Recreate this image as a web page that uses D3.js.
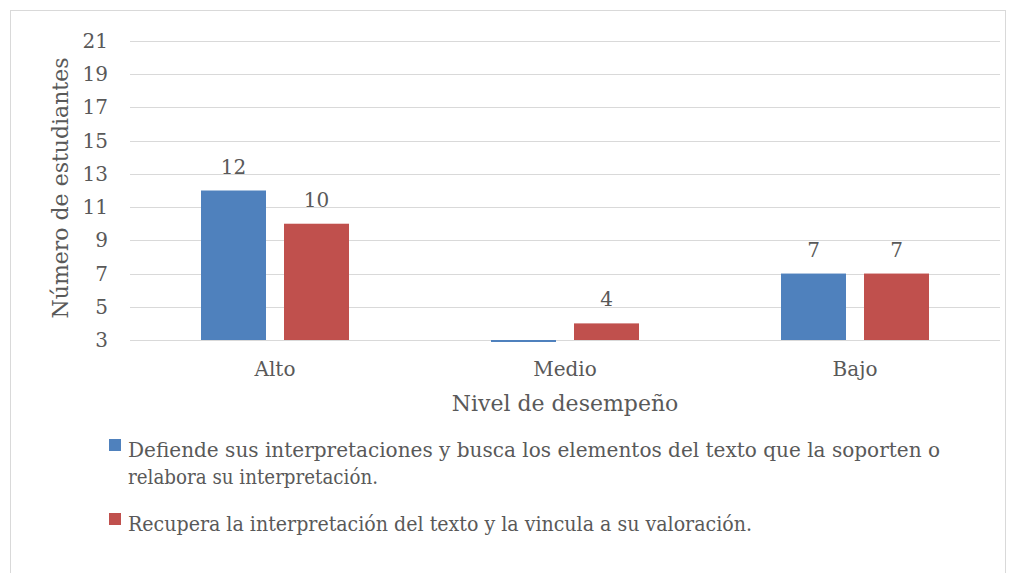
<!DOCTYPE html>
<meta charset="utf-8">
<script src="https://d3js.org/d3.v7.min.js"></script>
<style>
  body { margin: 0; background: #fff; }
  text { font-family: "DejaVu Serif", "Liberation Serif", serif; fill: #595959; }
</style>
<div id="chart"></div>
<script>
// data
var categories = ["Alto", "Medio", "Bajo"];
var legendLines = [
  ["Defiende sus interpretaciones y busca los elementos del texto que la soporten o", "relabora su interpretación."],
  ["Recupera la interpretación del texto y la vincula a su valoración."]
];
var defiende = [12, 2.88, 7];
var recupera = [10, 4, 7];
var yTicks = [3, 5, 7, 9, 11, 13, 15, 17, 19, 21];

var W = 1016, H = 573;
var margin = {top: 41, left: 130},
    width = 1000 - margin.left,
    height = 340 - margin.top;

var svg = d3.select("#chart").append("svg")
    .attr("width", W).attr("height", H);

// chart border
svg.append("rect")
    .attr("x", 10.5).attr("y", 10.5)
    .attr("width", 995).attr("height", 580)
    .attr("fill", "none").attr("stroke", "#d9d9d9");

var g = svg.append("g")
    .attr("transform", "translate(" + margin.left + "," + margin.top + ")");

var x = d3.scaleBand().domain(categories).range([0, width]);
var y = d3.scaleLinear().domain([3, 21]).range([height, 0]);
var colors = ["#4f81bd", "#c0504d"];
var barW = 65, gap = 18;

// gridlines
g.selectAll(".grid").data(yTicks).enter().append("line")
    .attr("x1", 0).attr("x2", width)
    .attr("y1", function(d) { return Math.round(y(d)) + 0.5; })
    .attr("y2", function(d) { return Math.round(y(d)) + 0.5; })
    .attr("stroke", "#d9d9d9").attr("stroke-width", 1);

// y tick labels
g.selectAll(".ytick").data(yTicks).enter().append("text")
    .attr("x", -22).attr("y", function(d) { return y(d); })
    .attr("dy", "0.35em").attr("text-anchor", "end")
    .style("font-size", "20px")
    .text(function(d) { return d; });

// bars
var series = [defiende, recupera];
series.forEach(function(vals, s) {
  var xo = s === 0 ? -gap / 2 - barW : gap / 2;
  var pos = function(i) { return x(categories[i]) + x.bandwidth() / 2 + xo; };
  g.selectAll(".bar" + s).data(vals).enter().append("rect")
      .attr("x", function(d, i) { return pos(i); })
      .attr("y", function(d) { return Math.min(y(d), y(3)); })
      .attr("width", barW)
      .attr("height", function(d) { return Math.abs(y(3) - y(d)); })
      .attr("fill", colors[s]);
  g.selectAll(".lab" + s).data(vals).enter().append("text")
      .attr("x", function(d, i) { return pos(i) + barW / 2; })
      .attr("y", function(d) { return y(d) - 17; })
      .attr("text-anchor", "middle")
      .style("font-size", "20px")
      .text(function(d) { return d >= 3 ? d : ""; });
});

// x labels
g.selectAll(".xlab").data(categories).enter().append("text")
    .attr("x", function(d) { return x(d) + x.bandwidth() / 2; })
    .attr("y", height + 36)
    .attr("text-anchor", "middle")
    .style("font-size", "20px")
    .text(function(d) { return d; });

// axis titles
g.append("text")
    .attr("x", width / 2).attr("y", height + 71)
    .attr("text-anchor", "middle")
    .style("font-size", "22px")
    .text("Nivel de desempeño");

svg.append("text")
    .attr("transform", "translate(68,188) rotate(-90)")
    .attr("text-anchor", "middle")
    .style("font-size", "22px")
    .text("Número de estudiantes");

// legend
var legTop = [439, 513];
var lineW = [[812, 250], [624]];
legendLines.forEach(function(lines, s) {
  svg.append("rect").attr("x", 109).attr("y", legTop[s])
      .attr("width", 12).attr("height", 12).attr("fill", colors[s]);
  lines.forEach(function(t, j) {
    svg.append("text").attr("x", 128).attr("y", legTop[s] + 18 + j * 27)
        .style("font-size", "20px")
        .attr("textLength", lineW[s][j]).attr("lengthAdjust", "spacingAndGlyphs")
        .text(t);
  });
});
</script>
